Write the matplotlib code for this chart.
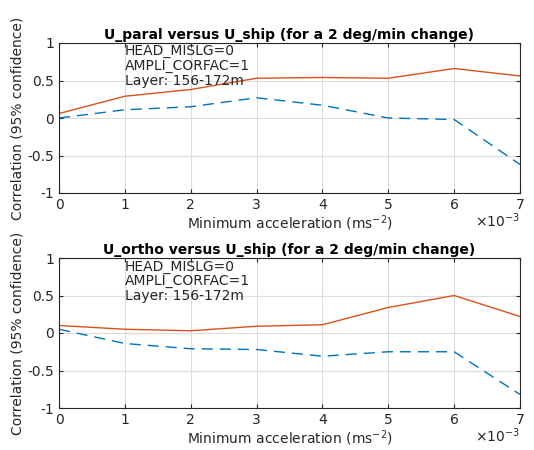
import matplotlib.pyplot as plt

acc = [0, 1, 2, 3, 4, 5, 6, 7]
xticks = [0, 1, 2, 3, 4, 5, 6, 7]

paral_red = [0.06, 0.29, 0.38, 0.53, 0.54, 0.53, 0.66, 0.56]
paral_blue = [0.00, 0.11, 0.15, 0.27, 0.17, 0.00, -0.02, -0.62]
ortho_red = [0.10, 0.05, 0.03, 0.09, 0.11, 0.34, 0.50, 0.22]
ortho_blue = [0.05, -0.14, -0.21, -0.22, -0.31, -0.25, -0.25, -0.82]

titles = ['U_paral versus U_ship (for a 2 deg/min change)',
          'U_ortho versus U_ship (for a 2 deg/min change)']
info = 'HEAD_MISLG=0\nAMPLI_CORFAC=1\nLayer: 156-172m'

red = '#D95319'
blue = '#0072BD'

fig = plt.figure(figsize=(5.34, 4.5), dpi=100)
boxes = [[59/534, 1 - 193/450, 461/534, 150/450],
         [59/534, 1 - 408/450, 461/534, 150/450]]
series = [(paral_red, paral_blue), (ortho_red, ortho_blue)]

for box, title, (r, b) in zip(boxes, titles, series):
    ax = fig.add_axes(box)
    ax.plot(acc, r, color=red, linewidth=1)
    ax.plot(acc, b, color=blue, linewidth=1, linestyle=(0, (8, 5)))
    ax.set_xlim(0, 7)
    ax.set_ylim(-1, 1)
    ax.set_xticks(xticks)
    ax.set_yticks([-1, -0.5, 0, 0.5, 1])
    ax.set_yticklabels(['-1', '-0.5', '0', '0.5', '1'])
    ax.grid(True, color='#dcdcdc', linewidth=0.8)
    ax.set_axisbelow(True)
    ax.tick_params(direction='in', length=3, labelsize=10, colors='#262626',
                   top=True, right=True)
    for s in ax.spines.values():
        s.set_color('#262626')
        s.set_linewidth(0.8)
    ax.set_title(title, fontsize=10, fontweight='bold', pad=3)
    ax.set_xlabel('Minimum acceleration (ms$^{-2}$)', fontsize=10,
                  color='#262626', labelpad=1)
    ax.set_ylabel('Correlation (95% confidence)', fontsize=10,
                  color='#262626', labelpad=2)
    ax.text(1.0, 0.98, info, fontsize=10, va='top', ha='left',
            color='#262626', linespacing=1.05)
    ax.text(1.0, -0.12, r'$\times10^{-3}$', transform=ax.transAxes,
            ha='right', va='top', fontsize=10, color='#262626')

fig.savefig('out.png', dpi=100)
